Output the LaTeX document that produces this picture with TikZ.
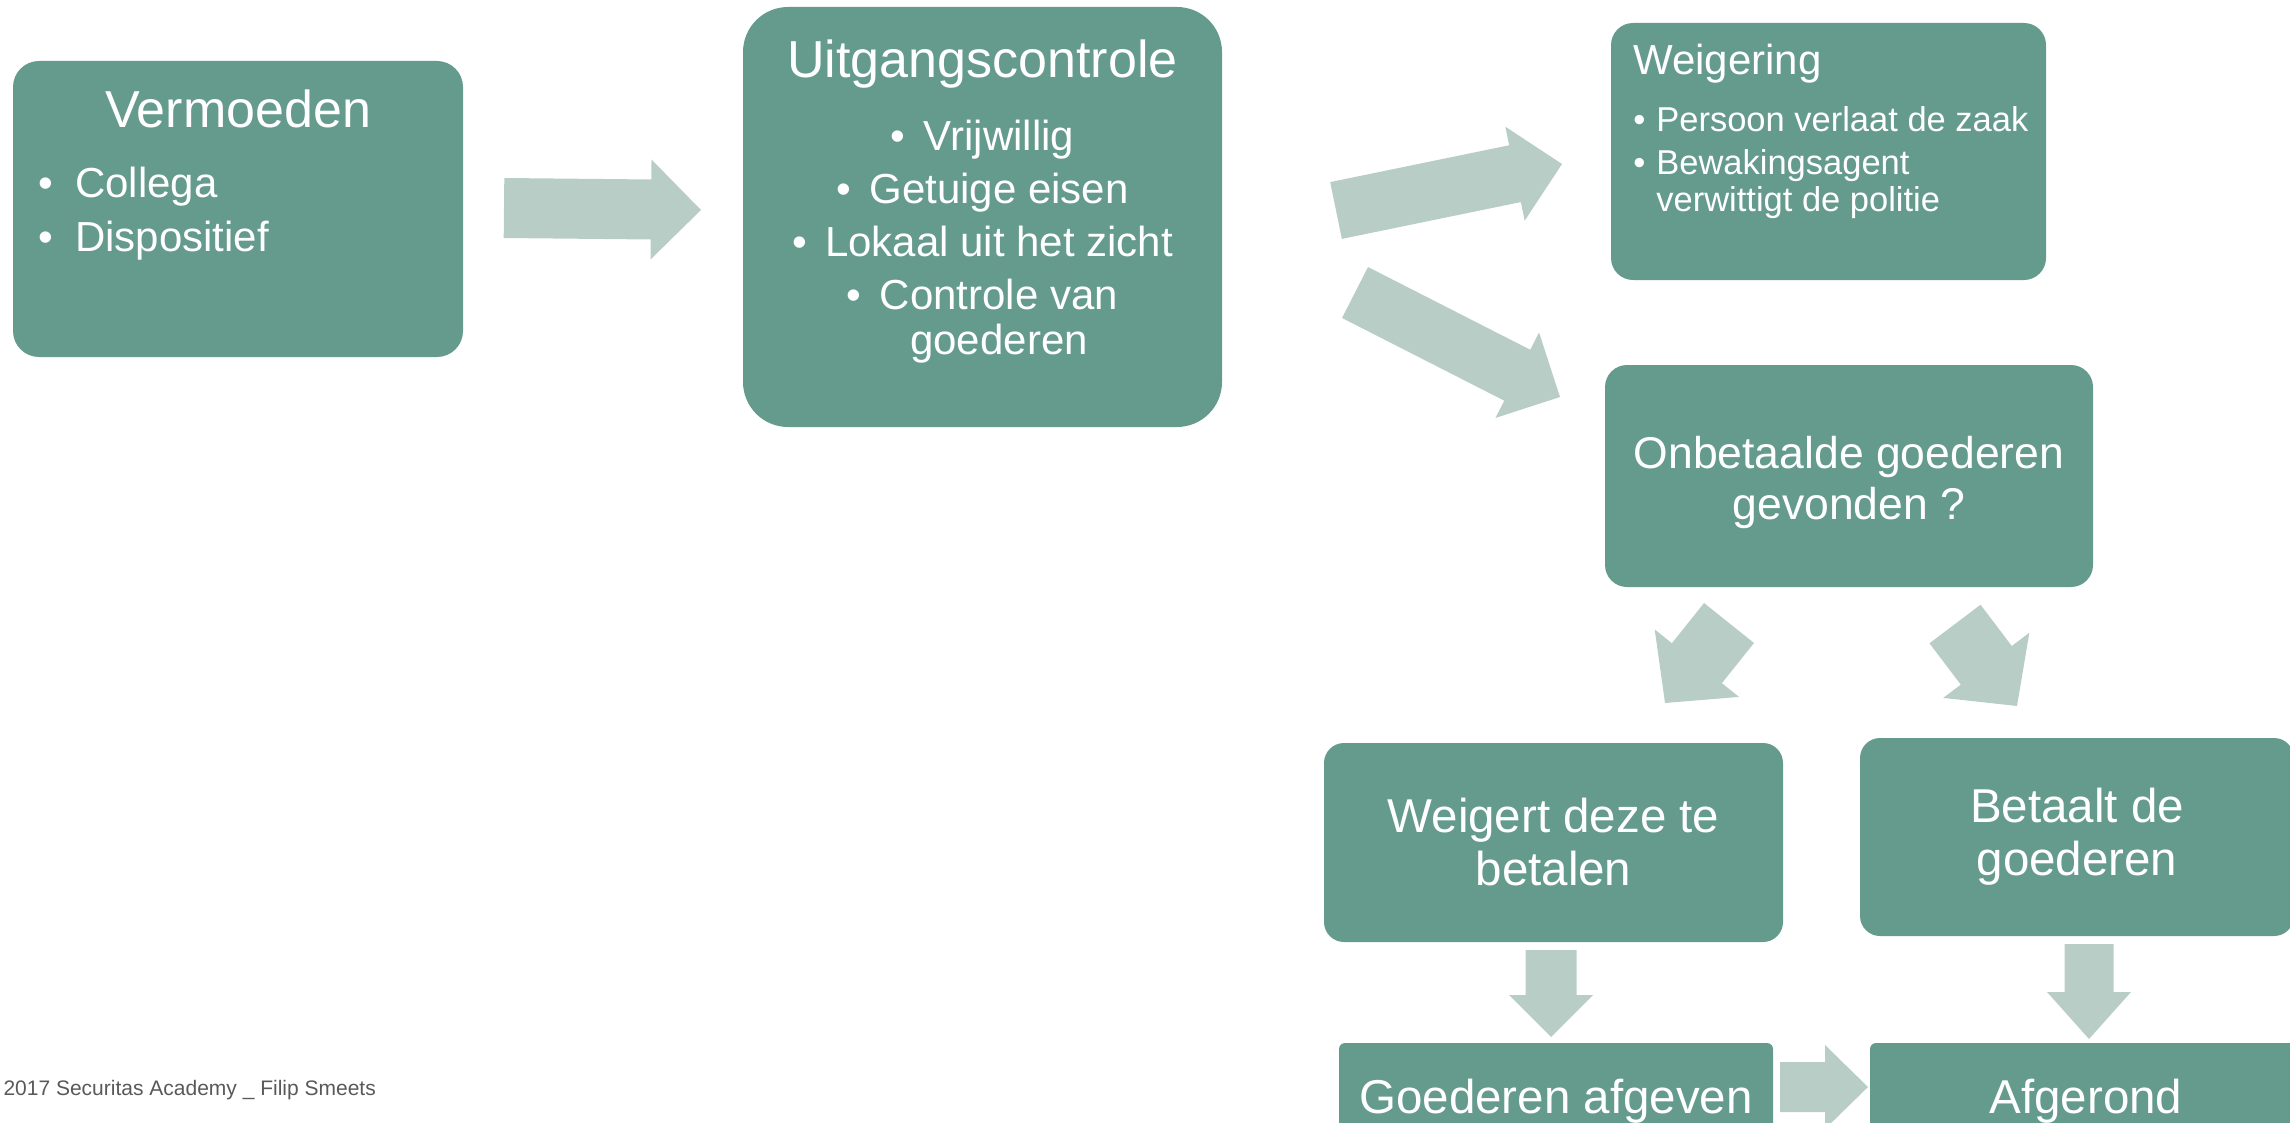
\documentclass[tikz,border=0pt]{standalone}
\usepackage{fontspec}
\setmainfont{Liberation Sans}
\usepackage{tikz}
\usetikzlibrary{calc}

\definecolor{boxgreen}{RGB}{101,155,140}
\definecolor{arrowgreen}{RGB}{185,205,199}
\definecolor{footgray}{RGB}{89,89,89}

\newcommand{\fs}[2]{\fontsize{#1}{#2}\selectfont}
\newcommand{\blt}[1]{\makebox[#1][l]{•}}
% block arrow: from, to, half shaft, half head, head length
\newcommand{\blockarrow}[5]{%
  \path ($(#2)!#5!(#1)$) coordinate (hb);
  \fill[arrowgreen] ($(#1)!#3!90:(#2)$) -- ($(hb)!#3!-90:(#1)$) -- ($(hb)!#4!-90:(#1)$)
    -- (#2) -- ($(hb)!#4!90:(#1)$) -- ($(hb)!#3!90:(#1)$) -- ($(#1)!#3!-90:(#2)$) -- cycle;
}

\begin{document}
\begin{tikzpicture}[x=1pt,y=-1pt,
                    titletext/.style={font=\fs{52}{60}},
                    listtext/.style={font=\fs{42}{45},align=left},
                    bigtext/.style={font=\fs{47.5}{53}}]

  \tikzstyle{box}=[fill=boxgreen,text=white,inner sep=0pt,align=center]

  \useasboundingbox (0,0) rectangle (2290,1123);
  \clip (0,0) rectangle (2290,1123);

  \node[box,minimum width=450pt,minimum height=296pt,rounded corners=26pt] (verm) at (238,209) {};
  \node[titletext,text=white,anchor=base] (verm-title) at ($(verm.north)+(0,67)$) {Vermoeden};
  \node[listtext,text=white,anchor=base west] (verm-list) at ($(verm.north west)+(22,191)$)
    {\blt{37pt}Collega\\[9pt]\blt{37pt}Dispositief};

  \node[box,minimum width=479pt,minimum height=420pt,rounded corners=45pt] (uit) at (982.5,217) {};
  \node[titletext,text=white,anchor=base] (uit-title) at ($(uit.north)+(0,71)$) {Uitgangscontrole};
  \node[listtext,align=center,text=white,anchor=base] (uit-list) at ($(uit.north)+(0,348)$)
    {\blt{33pt}Vrijwillig\\[8pt]\blt{33pt}Getuige eisen\\[8pt]\blt{33pt}Lokaal uit het zicht\\[8pt]%
     \blt{33pt}Controle van\\\hspace*{33pt}goederen};

  \node[box,minimum width=435pt,minimum height=257pt,rounded corners=22pt] (weig) at (1828.5,151.5) {};
  \node[text=white,font=\fs{42}{48},anchor=base west] (weig-title) at ($(weig.north west)+(19,52)$) {Weigering};
  \node[text=white,font=\fs{34.5}{37},align=left,anchor=base west] (weig-list) at ($(weig.north west)+(19,189)$)
    {\blt{23pt}Persoon verlaat de zaak\\[6pt]\blt{23pt}Bewakingsagent\\\hspace*{23pt}verwittigt de politie};

  \node[box,font=\fs{44.5}{51},minimum width=488pt,minimum height=222pt,rounded corners=22pt] (onb) at (1849,476)
    {\rule{0pt}{45pt}Onbetaalde goederen\\gevonden ?};

  \node[box,bigtext,minimum width=459pt,minimum height=199pt,rounded corners=20pt] (weigert) at (1553.5,842.5)
    {Weigert deze te\\betalen};
  \node[box,bigtext,minimum width=434pt,minimum height=198pt,rounded corners=20pt] (betaalt) at (2077,837)
    {Betaalt de\\goederen};

  \node[box,bigtext,minimum width=434pt,minimum height=116pt,rounded corners=6pt] (afgeven) at (1556,1101)
    {Goederen afgeven};
  \node[box,bigtext,minimum width=432pt,minimum height=116pt,rounded corners=6pt] (afgerond) at (2086,1101)
    {Afgerond};

  \node[text=footgray,font=\fs{21}{24},anchor=base west] (footer) at (0,1095)
    {2017 Securitas Academy \_ Filip Smeets};

  % arrows
  \coordinate (a1s) at (504,208);    \coordinate (a1e) at (701,210);
  \coordinate (a2s) at (1336,210.5); \coordinate (a2e) at (1562,164);
  \coordinate (a3s) at (1355,292.5); \coordinate (a3e) at (1560,397);
  \coordinate (a4s) at (1729,623);   \coordinate (a4e) at (1665,703);
  \coordinate (a5s) at (1955,624);   \coordinate (a5e) at (2017,706);
  \coordinate (a6s) at (1551,950);   \coordinate (a6e) at (1551,1037);
  \coordinate (a7s) at (2089,944);   \coordinate (a7e) at (2089,1039);
  \coordinate (a8s) at (1780,1087);  \coordinate (a8e) at (1868,1087);

  \blockarrow{a1s}{a1e}{30pt}{50pt}{50pt}
  \blockarrow{a2s}{a2e}{29pt}{48pt}{48pt}
  \blockarrow{a3s}{a3e}{28.6pt}{48pt}{48pt}
  \blockarrow{a4s}{a4e}{32pt}{54pt}{51pt}
  \blockarrow{a5s}{a5e}{32pt}{54pt}{51pt}
  \blockarrow{a6s}{a6e}{25.5pt}{42pt}{42pt}
  \blockarrow{a7s}{a7e}{24.5pt}{42pt}{47pt}
  \blockarrow{a8s}{a8e}{25pt}{42pt}{43pt}
\end{tikzpicture}
\end{document}
